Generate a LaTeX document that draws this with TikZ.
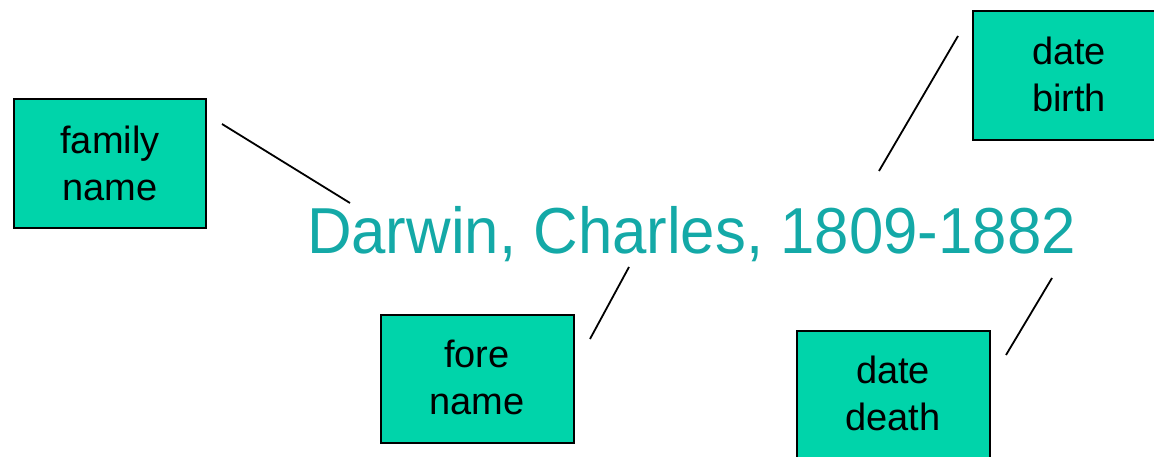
\documentclass[tikz,border=0pt]{standalone}
\usepackage{fontspec}
\setmainfont{Liberation Sans}
\definecolor{boxfill}{HTML}{00D4AA}
\definecolor{teal1}{HTML}{14A9A7}
\begin{document}
\begin{tikzpicture}[x=1pt,y=-1pt,
  box/.style={draw=black,line width=1.8pt,fill=boxfill,inner sep=0pt},
  boxtext/.style={align=center,font=\fontsize{38}{47}\selectfont,text=black},
  link/.style={draw=black,line width=1.8pt}]
\useasboundingbox (0,0) rectangle (1154,457);
\begin{scope}
\clip (0,0) rectangle (1154,457);
% boxes
\path[box] (14,99) rectangle (206,228);
\node[boxtext] (family) at (110,163) {family\\name};
\path[box] (973,11) rectangle (1160,140);
\node[boxtext] (birth) at (1069,74) {date\\birth};
\path[box] (381,315) rectangle (574,443);
\node[boxtext] (fore) at (477,377) {fore\\name};
\path[box] (797,331) rectangle (990,470);
\node[boxtext] (death) at (893,393) {date\\death};
\end{scope}
% main text
\node[anchor=base,text=teal1,font=\fontsize{65}{70}\selectfont,inner sep=0pt] (darwin) at (691.5,254) {\scalebox{0.95}[1]{Darwin, Charles, 1809-1882}};
% connectors
\coordinate (f1) at (222,124); \coordinate (f2) at (350,203);
\coordinate (b1) at (958,36);  \coordinate (b2) at (879,171);
\coordinate (d1) at (1052,278); \coordinate (d2) at (1006,355);
\coordinate (o1) at (629,267); \coordinate (o2) at (590,339);
\draw[link] (f1) -- (f2);
\draw[link] (b1) -- (b2);
\draw[link] (d1) -- (d2);
\draw[link] (o1) -- (o2);
\end{tikzpicture}
\end{document}
